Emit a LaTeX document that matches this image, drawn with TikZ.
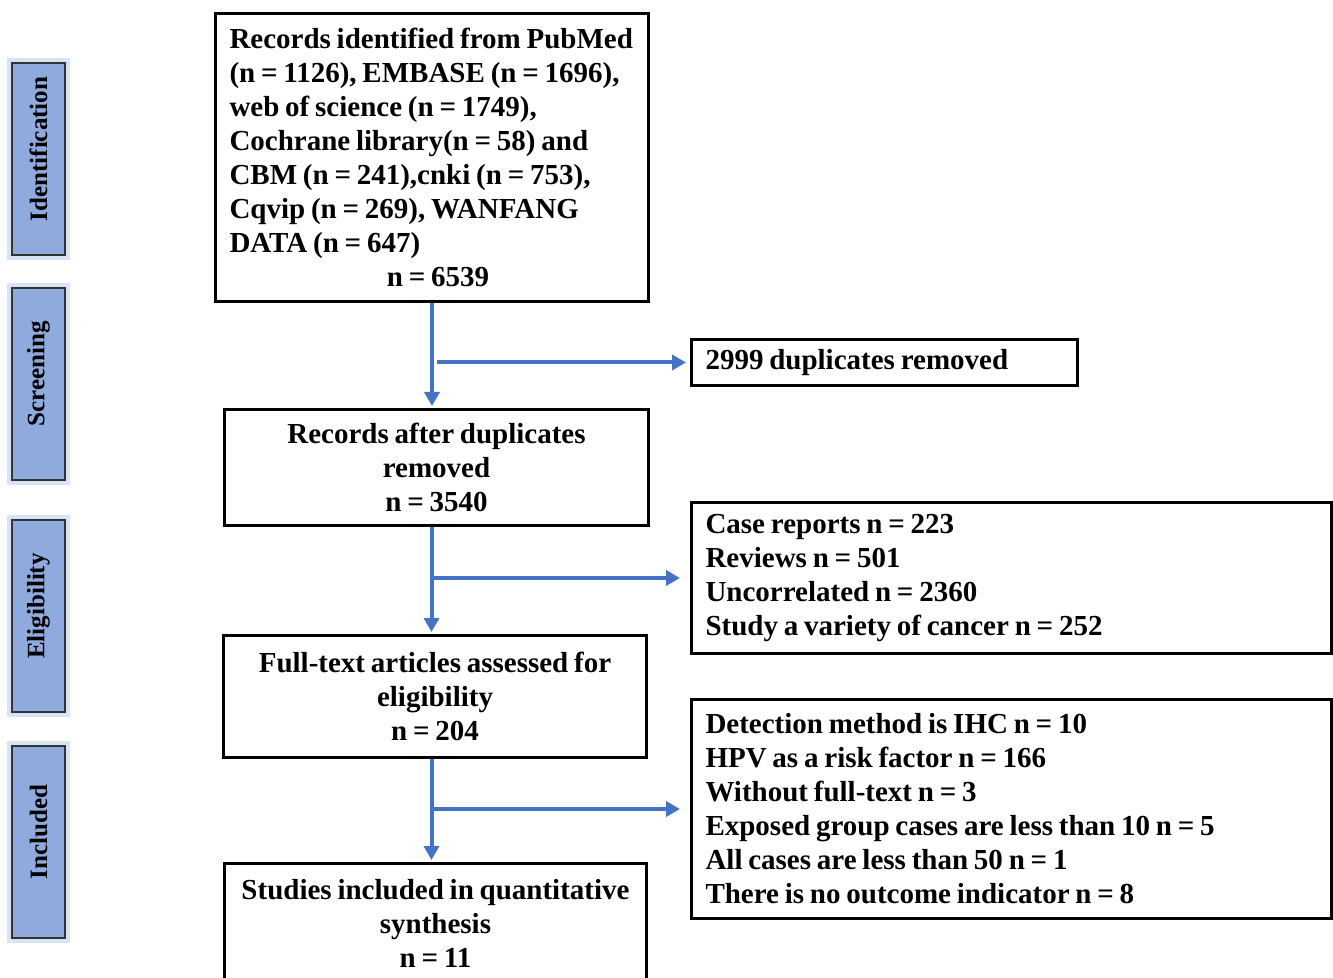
\documentclass[tikz,border=0pt]{standalone}
\usepackage{fontspec}
\setmainfont{Liberation Serif}
\usetikzlibrary{arrows.meta}
\usetikzlibrary{calc}

\definecolor{flowblue}{HTML}{4472C4}
\definecolor{stagefill}{HTML}{8FAADC}
\definecolor{stageglow}{HTML}{C5D8F2}

\tikzset{
  box/.style={draw=black, line width=1.5pt, anchor=north west, inner xsep=7pt, inner ysep=0pt,
    font=\bfseries\fontsize{14.5}{17}\selectfont,
    execute at begin node={\spaceskip=0.2em\relax}},
  stage/.style={draw=black!80, line width=0.6pt, fill=stagefill, rotate=90, minimum width=96pt,
    minimum height=26.5pt, inner sep=0pt, font=\bfseries\fontsize{12.5}{14}\selectfont,
    preaction={draw=stageglow, line width=5pt, opacity=0.7}},
  flow/.style={draw=flowblue, line width=2pt, -{Triangle[length=7pt,width=7.5pt]}},
}

\begin{document}
\begin{tikzpicture}[x=0.5pt, y=-0.5pt]
      \useasboundingbox (0,0) rectangle (1333,978);

      %% Stages on the left
      \foreach \y/\lab in {159/Identification, 384/Screening, 616/Eligibility, 842/Included}
      {%
        \node[stage] (\lab) at (38.5, \y) {\hspace*{10pt}\lab};
      }

      %% Main column
      \node[box, text width=202.5pt, align=left, minimum height=144pt] (ident) at (214,12)
        {Records identified from PubMed\\
         (n = 1126), EMBASE (n = 1696),\\
         web of science (n = 1749),\\
         Cochrane library(n = 58) and\\
         CBM (n = 241),cnki (n = 753),\\
         Cqvip (n = 269), WANFANG\\
         DATA (n = 647)\\
         \hbox to\hsize{\hss\hskip6pt n = 6539\hss}};
      \node[box, text width=198pt, align=center, minimum height=58pt] (records) at (223,408)
        {Records after duplicates\\ removed\\ n = 3540};
      \node[box, text width=197.5pt, align=center, minimum height=61pt] (fulltext) at (222,634)
        {Full-text articles assessed for\\ eligibility\\ n = 204};
      \node[box, text width=197pt, align=center, minimum height=60pt] (studies) at (223,862)
        {Studies included in quantitative\\ synthesis\\ n = 11};

      %% Exclusions
      \node[box, text width=179pt, align=left, minimum height=23pt] (dup) at (690,338)
        {2999 duplicates removed};
      \node[box, text width=306pt, align=left, minimum height=75.5pt] (excl1) at (690,501)
        {Case reports n = 223\\
         Reviews n = 501\\
         Uncorrelated n = 2360\\
         Study a variety of cancer n = 252};
      \node[box, text width=306pt, align=left, minimum height=109.5pt] (excl2) at (690,698)
        {Detection method is IHC n = 10\\
         HPV as a risk factor n = 166\\
         Without full-text n = 3\\
         Exposed group cases are less than 10 n = 5\\
         All cases are less than 50 n = 1\\
         There is no outcome indicator n = 8};

      %% Arrows
      \coordinate (v1) at (ident.south);
      \coordinate (v2) at ($(records.south) + (-5,0)$);
      \coordinate (v3) at ($(fulltext.south) + (-3.5,0)$);
      \draw[flow, shorten >=1pt] (v1) -- (v1 |- records.north);
      \draw[flow, shorten >=2pt] ($(v1 |- dup.west) + (5,0)$) -- (dup.west);
      \draw[flow, shorten >=1pt] (v2) -- (v2 |- fulltext.north);
      \draw[flow, shorten >=5pt] (v2 |- excl1.west) -- (excl1.west);
      \draw[flow, shorten >=1pt] (v3) -- (v3 |- studies.north);
      \draw[flow, shorten >=5pt] (v3 |- excl2.west) -- (excl2.west);

    \end{tikzpicture}
\end{document}
